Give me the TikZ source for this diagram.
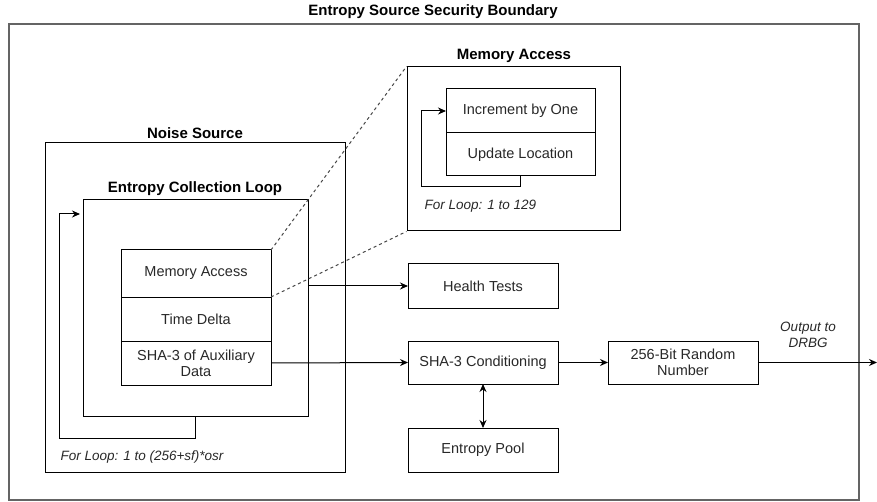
\documentclass[tikz,border=0pt]{standalone}
\usepackage{fontspec}
\setmainfont{Liberation Sans}
\usetikzlibrary{positioning,arrows.meta}
\definecolor{textgray}{RGB}{40,40,40}
\definecolor{framegray}{RGB}{100,100,100}
\definecolor{dashgray}{RGB}{70,70,70}
\tikzset{
  block/.style={draw,line width=1pt,inner sep=0pt,outer sep=0pt,align=center,
    text=textgray,font=\fontsize{14.5}{16}\selectfont},
  frame/.style={draw,line width=1pt,inner sep=0pt},
  title/.style={font=\bfseries\fontsize{15}{18}\selectfont,text=black},
  note/.style={font=\itshape\fontsize{13.5}{16}\selectfont,text=textgray,align=center},
  flow/.style={line width=1pt,-{Stealth[length=8pt,width=7pt]}},
  twoway/.style={line width=1pt,{Stealth[length=8pt,width=7pt]}-{Stealth[length=8pt,width=7pt]}},
  zoomline/.style={line width=1pt,dashgray,dash pattern=on 3pt off 3pt}
}

\begin{document}
\begin{tikzpicture}[x=1pt,y=-1pt]
        \useasboundingbox (0,0) rectangle (877,502);

        \node[frame,draw=framegray,line width=1.6pt,anchor=north west,
              minimum width=850pt,minimum height=476pt]
          (boundary) at (8,23) {};
        \node[title] (boundarytitle) at (433,12) {Entropy Source Security Boundary};

        \node[frame,minimum width=300pt,minimum height=329pt]
          (noise) at (195,307.5) {};
        \node[title] (noisetitle) at (195,133) {Noise Source};

        \node[frame,minimum width=225pt,minimum height=216pt]
          (ecl) at (195.5,308) {};
        \node[title] (ecltitle) at (195,189) {Entropy Collection Loop};

        \node[block,minimum width=150pt,minimum height=47pt]
          (mem) at (196,273.5) {Memory Access};
        \node[block,minimum width=150pt,minimum height=44pt,below=0pt of mem]
          (delta) {Time Delta};
        \node[block,minimum width=150pt,minimum height=44pt,below=0pt of delta]
          (aux) {SHA-3 of Auxiliary\\Data};

        \coordinate (eclin) at (80,214);
        \draw[flow] (ecl.south) -- ++(0,22) -| (59,214) -- (eclin);
        \node[note,anchor=west] (eclnote) at (57,457) {For Loop: 1 to (256+sf)*osr};

        \node[frame,minimum width=213pt,minimum height=164pt]
          (mabox) at (513.5,149) {};
        \node[title] (matitle) at (514,56) {Memory Access};

        \node[block,minimum width=149pt,minimum height=44pt]
          (inc) at (520.5,111) {Increment by One};
        \node[block,minimum width=149pt,minimum height=43pt,below=0pt of inc]
          (upd) {Update Location};
        \draw[flow] (upd.south) -- ++(0,11) -| (421,111) -- (inc.west);
        \node[note,anchor=west] (manote) at (421,206) {For Loop: 1 to 129};

        \draw[zoomline] (mem.north east) -- (mabox.north west);
        \draw[zoomline] (mem.south east) -- (mabox.south west);

        \node[block,minimum width=150pt,minimum height=44pt]
          (health) at (483,286) {Health Tests};
        \node[block,minimum width=150pt,minimum height=43pt]
          (sha) at (483,362.5) {SHA-3 Conditioning};
        \node[block,minimum width=150pt,minimum height=44pt]
          (pool) at (483,450) {Entropy Pool};
        \node[block,minimum width=150pt,minimum height=43pt]
          (rng) at (683,362.5) {256-Bit Random\\Number};

        \draw[flow] (ecl.east |- health.west) -- (health.west);
        \draw[flow] (aux.east) -- (sha.west);
        \draw[flow] (sha.east) -- (rng.west);
        \draw[twoway] (sha.south) -- (pool.north);

        \coordinate (drbg) at (877,362.5);
        \draw[flow] (rng.east) -- (drbg);
        \node[note] (drbgnote) at (808,335) {Output to\\DRBG};
      \end{tikzpicture}
\end{document}
